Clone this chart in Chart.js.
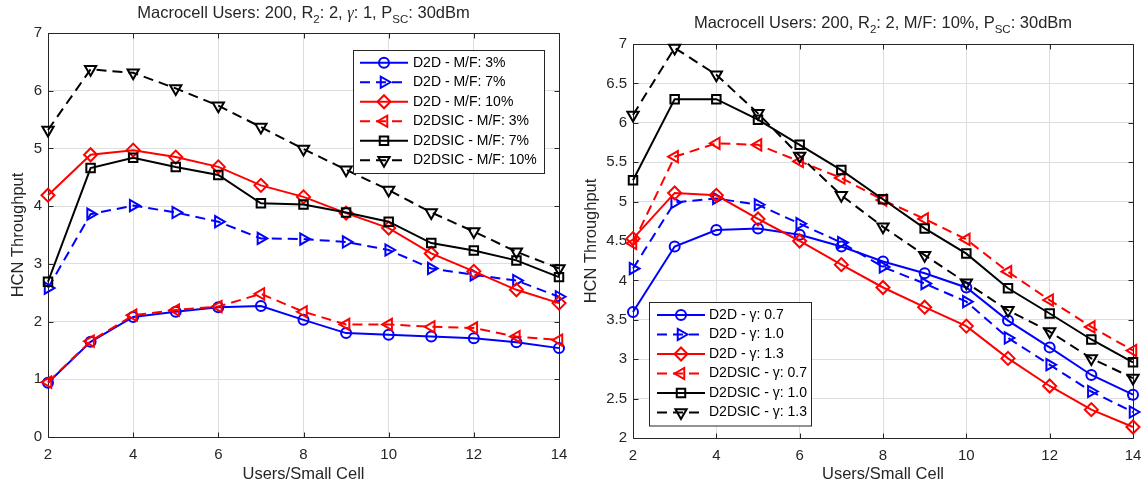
<!DOCTYPE html>
<html>
<head>
<meta charset="utf-8">
<script src="https://cdn.jsdelivr.net/npm/chart.js"></script>
<style>
body{margin:0;background:#fff;}
#wrap{position:relative;width:1146px;height:491px;overflow:hidden;font-family:"Liberation Sans",Arial,sans-serif;color:#262626;}
canvas{position:absolute;top:0;}
.ttl{position:absolute;font-size:16.5px;line-height:20px;text-align:center;white-space:nowrap;}
.ttl sub{font-size:11.5px;vertical-align:-5px;line-height:0;}
.ttl i{font-family:"Liberation Serif",serif;}
</style>
</head>
<body>
<div id="wrap">
	<canvas id="left" width="573" height="491" style="left:0"></canvas>
	<canvas id="right" width="573" height="491" style="left:573px"></canvas>
	<div class="ttl" style="left:48px;width:511px;top:2px">Macrocell Users: 200, R<sub>2</sub>: 2, <i>γ</i>: 1, P<sub>SC</sub>: 30dBm</div>
	<div class="ttl" style="left:633px;width:500px;top:12px">Macrocell Users: 200, R<sub>2</sub>: 2, M/F: 10%, P<sub>SC</sub>: 30dBm</div>
</div>
<script>
// x values and tick labels
var users = [2, 3, 4, 5, 6, 7, 8, 9, 10, 11, 12, 13, 14];
var xTicks = [2, 4, 6, 8, 10, 12, 14];
var leftYTicks = [0, 1, 2, 3, 4, 5, 6, 7];
var rightYTicks = [2, 2.5, 3, 3.5, 4, 4.5, 5, 5.5, 6, 6.5, 7];

// left panel: gamma 1, varying M/F
var mfLabels = ['D2D - M/F: 3%', 'D2D - M/F: 7%', 'D2D - M/F: 10%', 'D2DSIC - M/F: 3%', 'D2DSIC - M/F: 7%', 'D2DSIC - M/F: 10%'];
var d2dMf3 = [0.94, 1.65, 2.08, 2.17, 2.25, 2.27, 2.03, 1.80, 1.77, 1.74, 1.71, 1.64, 1.54];
var d2dMf7 = [2.58, 3.86, 4.01, 3.89, 3.73, 3.44, 3.43, 3.38, 3.24, 2.92, 2.81, 2.71, 2.43];
var d2dMf10 = [4.19, 4.89, 4.97, 4.85, 4.68, 4.36, 4.16, 3.88, 3.62, 3.18, 2.87, 2.55, 2.32];
var sicMf3 = [0.95, 1.66, 2.11, 2.20, 2.26, 2.48, 2.17, 1.95, 1.95, 1.91, 1.89, 1.74, 1.68];
var sicMf7 = [2.69, 4.66, 4.84, 4.68, 4.54, 4.05, 4.03, 3.89, 3.73, 3.36, 3.23, 3.06, 2.77];
var sicMf10 = [5.32, 6.37, 6.31, 6.04, 5.74, 5.37, 4.99, 4.63, 4.28, 3.89, 3.56, 3.21, 2.92];

// right panel: M/F 10%, varying gamma
var gammaLabels = ['D2D - γ: 0.7', 'D2D - γ: 1.0', 'D2D - γ: 1.3', 'D2DSIC - γ: 0.7', 'D2DSIC - γ: 1.0', 'D2DSIC - γ: 1.3'];
var d2dG07 = [3.60, 4.43, 4.64, 4.66, 4.58, 4.43, 4.24, 4.09, 3.91, 3.49, 3.15, 2.80, 2.55];
var d2dG10 = [4.15, 4.99, 5.04, 4.96, 4.72, 4.48, 4.17, 3.96, 3.73, 3.27, 2.93, 2.59, 2.33];
var d2dG13 = [4.53, 5.11, 5.08, 4.78, 4.50, 4.20, 3.91, 3.66, 3.42, 3.01, 2.66, 2.36, 2.14];
var sicG07 = [4.47, 5.57, 5.74, 5.72, 5.51, 5.30, 5.02, 4.78, 4.52, 4.11, 3.75, 3.41, 3.11];
var sicG10 = [5.27, 6.30, 6.30, 6.04, 5.72, 5.40, 5.03, 4.66, 4.34, 3.90, 3.58, 3.25, 2.96];
var sicG13 = [6.10, 6.95, 6.61, 6.12, 5.58, 5.08, 4.68, 4.32, 3.97, 3.62, 3.35, 3.01, 2.76];

// line styles, same order in both panels
var colors = ['#0000ff', '#0000ff', '#ff0000', '#ff0000', '#000000', '#000000'];
var dashes = [[], [10, 6], [], [10, 6], [], [10, 6]];
var markers = ['circle', 'triangle', 'rectRot', 'triangle', 'rect', 'triangle'];
var rotations = [0, 90, 0, -90, 0, 180];
var radii = [5, 6.5, 6.5, 6.5, 6, 6.5];

var FONT = '"Liberation Sans", Arial, sans-serif';
var INK = '#262626';

function drawMarker(ctx, style, r, rot, x, y, color, lw) {
	ctx.save();
	ctx.strokeStyle = color;
	ctx.lineWidth = lw;
	ctx.setLineDash([]);
	ctx.beginPath();
	if (style === 'circle') {
		ctx.arc(x, y, r, 0, Math.PI * 2);
	} else if (style === 'rect') {
		var s = r * Math.SQRT1_2;
		ctx.rect(x - s, y - s, 2 * s, 2 * s);
	} else if (style === 'rectRot') {
		ctx.moveTo(x, y - r); ctx.lineTo(x + r, y); ctx.lineTo(x, y + r); ctx.lineTo(x - r, y); ctx.closePath();
	} else {
		var a = rot * Math.PI / 180;
		for (var k = 0; k < 3; k++) {
			var px = x + Math.sin(a) * r, py = y - Math.cos(a) * r;
			if (k === 0) ctx.moveTo(px, py); else ctx.lineTo(px, py);
			a += Math.PI * 2 / 3;
		}
		ctx.closePath();
	}
	ctx.stroke();
	ctx.restore();
}

// axes box with inward ticks, like the original
var framePlugin = {
	id: 'frame',
	beforeDatasetsDraw: function (chart) {
		var ctx = chart.ctx, a = chart.chartArea, sx = chart.scales.x, sy = chart.scales.y;
		var L = Math.round(a.left) + 0.5, R = Math.round(a.right) + 0.5;
		var T = Math.round(a.top) + 0.5, B = Math.round(a.bottom) + 0.5;
		var tl = 5;
		ctx.save();
		ctx.strokeStyle = INK;
		ctx.lineWidth = 1;
		ctx.beginPath();
		ctx.rect(L, T, R - L, B - T);
		sx.ticks.forEach(function (t) {
			var p = Math.round(sx.getPixelForValue(t.value)) + 0.5;
			ctx.moveTo(p, B); ctx.lineTo(p, B - tl);
			ctx.moveTo(p, T); ctx.lineTo(p, T + tl);
		});
		sy.ticks.forEach(function (t) {
			var p = Math.round(sy.getPixelForValue(t.value)) + 0.5;
			ctx.moveTo(L, p); ctx.lineTo(L + tl, p);
			ctx.moveTo(R, p); ctx.lineTo(R - tl, p);
		});
		ctx.stroke();
		ctx.restore();
	}
};

// boxed legend inside the plot
var legendPlugin = {
	id: 'boxLegend',
	afterDatasetsDraw: function (chart, args, o) {
		var ctx = chart.ctx, sets = chart.data.datasets;
		var h = o.pad * 2 + o.rowH * sets.length;
		ctx.save();
		ctx.fillStyle = '#fff';
		ctx.fillRect(o.left, o.top, o.width, h);
		ctx.strokeStyle = INK;
		ctx.lineWidth = 1;
		ctx.strokeRect(o.left + 0.5, o.top + 0.5, o.width, h);
		ctx.font = '14px ' + FONT;
		ctx.textBaseline = 'middle';
		sets.forEach(function (ds, i) {
			var y = o.top + o.pad + o.rowH * (i + 0.5);
			var x0 = o.left + o.lineStart, x1 = x0 + o.lineLen;
			ctx.strokeStyle = ds.borderColor;
			ctx.lineWidth = ds.borderWidth;
			ctx.setLineDash(ds.borderDash);
			ctx.beginPath(); ctx.moveTo(x0, y); ctx.lineTo(x1, y); ctx.stroke();
			ctx.setLineDash([]);
			drawMarker(ctx, ds.pointStyle, ds.pointRadius, ds.pointRotation, (x0 + x1) / 2, y, ds.borderColor, ds.pointBorderWidth);
			ctx.fillStyle = '#000';
			ctx.fillText(ds.label, x1 + o.gap, y);
		});
		ctx.restore();
	}
};

function buildSets(labels, series) {
	return series.map(function (vals, i) {
		return {
			label: labels[i],
			data: users.map(function (u, k) { return {x: u, y: vals[k]}; }),
			borderColor: colors[i],
			backgroundColor: 'rgba(0,0,0,0)',
			borderWidth: 2,
			borderDash: dashes[i],
			pointStyle: markers[i],
			pointRotation: rotations[i],
			pointRadius: radii[i],
			pointBorderWidth: 2,
			pointBorderColor: colors[i],
			pointBackgroundColor: 'rgba(0,0,0,0)',
			tension: 0,
			clip: false,
			order: series.length - i
		};
	});
}

function makeChart(id, labels, series, yTicks, g, lg) {
	var tickList = function (vals) { return function (s) { s.ticks = vals.map(function (v) { return {value: v}; }); }; };
	return new Chart(id, {
		type: 'line',
		data: {datasets: buildSets(labels, series)},
		options: {
			responsive: false,
			animation: false,
			layout: {padding: {left: 0, top: g.top, right: g.right, bottom: 0}},
			plugins: {legend: {display: false}, tooltip: {enabled: false}, boxLegend: lg},
			scales: {
				x: {
					type: 'linear', min: xTicks[0], max: xTicks[xTicks.length - 1],
					afterBuildTicks: tickList(xTicks),
					afterFit: function (s) { s.height = g.xh; s.paddingLeft = 0; s.paddingRight = 0; },
					grid: {color: '#dedede', drawTicks: false},
					border: {display: false},
					ticks: {padding: 9, maxRotation: 0, color: INK, font: {size: 15, family: FONT}},
					title: {display: true, text: 'Users/Small Cell', color: INK, font: {size: 16.5, family: FONT}, padding: {top: 0, bottom: 7}}
				},
				y: {
					type: 'linear', min: yTicks[0], max: yTicks[yTicks.length - 1],
					afterBuildTicks: tickList(yTicks),
					afterFit: function (s) { s.width = g.yw; s.paddingTop = 0; s.paddingBottom = 0; },
					grid: {color: '#dedede', drawTicks: false},
					border: {display: false},
					ticks: {padding: 6, color: INK, font: {size: 15, family: FONT}, callback: function (v) { return String(v); }},
					title: {display: true, text: 'HCN Throughput', color: INK, font: {size: 16.5, family: FONT}, padding: {top: 9, bottom: 0}}
				}
			}
		},
		plugins: [framePlugin, legendPlugin]
	});
}

makeChart('left', mfLabels, [d2dMf3, d2dMf7, d2dMf10, sicMf3, sicMf7, sicMf10], leftYTicks,
	{top: 33, right: 14, xh: 54, yw: 48},
	{left: 353, top: 50, width: 191, pad: 3, rowH: 19.5, lineStart: 7, lineLen: 48, gap: 5});

makeChart('right', gammaLabels, [d2dG07, d2dG10, d2dG13, sicG07, sicG10, sicG13], rightYTicks,
	{top: 44, right: 13, xh: 53, yw: 60},
	{left: 76, top: 302, width: 162, pad: 3.25, rowH: 19.5, lineStart: 8, lineLen: 48, gap: 4});
</script>
</body>
</html>
